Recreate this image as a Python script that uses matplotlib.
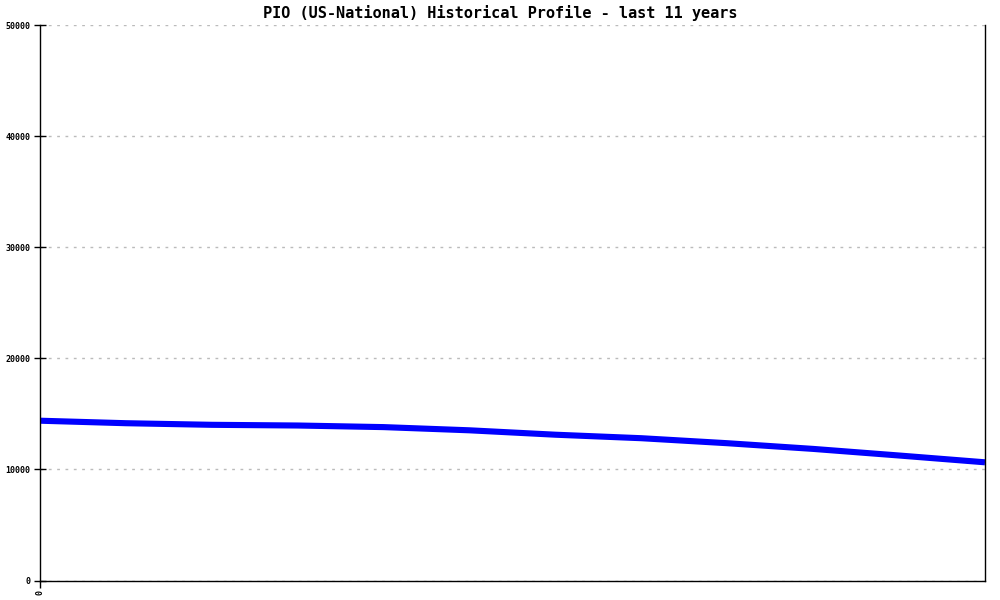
import matplotlib
matplotlib.use("Agg")
import matplotlib.pyplot as plt

title = "PIO (US-National) Historical Profile - last 11 years"
years = list(range(12))
population = [14383, 14158, 14014, 13951, 13807, 13519, 13123, 12808, 12358, 11845, 11251, 10639]
yticks = [0, 10000, 20000, 30000, 40000, 50000]
xtick_labels = ["0"]

fig = plt.figure(figsize=(10, 6), dpi=100)
ax = fig.add_axes([0.04, 0.0325, 0.945, 0.9258])

ax.plot(years, population, color="#0000ff", linewidth=4.4, solid_capstyle="butt", solid_joinstyle="miter")

ax.set_xlim(years[0], years[-1])
ax.set_ylim(0, 50000)
ax.set_yticks(yticks)
ax.set_yticklabels([str(v) for v in yticks], fontsize=6, family="DejaVu Sans Mono", fontweight="bold")
ax.set_xticks([years[0]])
ax.set_xticklabels(xtick_labels, fontsize=6, family="DejaVu Sans Mono", rotation=90, fontweight="bold")

ax.grid(axis="y", color="#bbbbbb", linestyle=(0, (2, 4)), linewidth=1)
ax.set_axisbelow(True)
for s in ["left", "bottom", "right"]:
    ax.spines[s].set_color("black")
    ax.spines[s].set_linewidth(1)
ax.spines["top"].set_visible(False)
ax.tick_params(axis="y", direction="inout", length=8, width=1, pad=3)
ax.tick_params(axis="x", direction="out", length=5, width=1, pad=2)

fig.text(0.5, 0.978, title, ha="center", va="center", fontsize=11, family="DejaVu Sans Mono", fontweight="bold")

fig.savefig("out.png", dpi=100)
